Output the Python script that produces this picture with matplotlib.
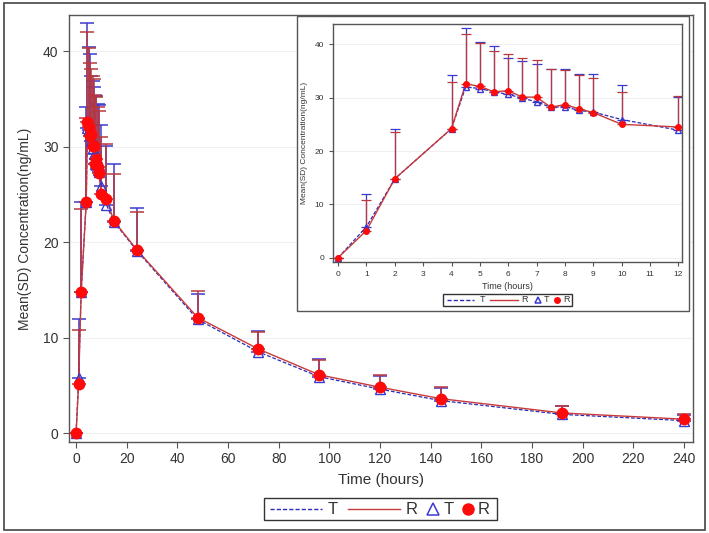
import numpy as np
import matplotlib
matplotlib.use('Agg')
import matplotlib.pyplot as plt
from matplotlib.patches import Rectangle
from matplotlib.lines import Line2D

# Sampling times (hours)
time = [0, 1, 2, 4, 4.5, 5, 5.5, 6, 6.5, 7, 7.5, 8, 8.5, 9, 10, 12, 15, 24, 48, 72, 96, 120, 144, 192, 240]

# Test (T) mean and SD
t_mean = [0, 5.8, 14.8, 24.2, 32.0, 31.7, 31.1, 30.6, 29.9, 29.2, 28.2, 28.3, 27.6, 27.3, 25.9, 23.9, 22.1, 19.1,
          11.9, 8.5, 5.9, 4.6, 3.4, 1.95, 1.3]
t_sd = [0, 6.1, 9.4, 10.0, 11.0, 8.7, 8.6, 6.8, 7.0, 7.1, 7.1, 7.0, 6.9, 7.1, 6.4, 6.2, 6.1, 4.5,
        2.7, 2.2, 1.9, 1.4, 1.3, 0.85, 0.55]

# Reference (R) mean and SD
r_mean = [0, 5.1, 14.8, 24.2, 32.6, 32.1, 31.1, 31.3, 30.1, 30.1, 28.2, 28.7, 27.9, 27.2, 25.0, 24.5, 22.2, 19.2,
          12.1, 8.8, 6.1, 4.8, 3.6, 2.1, 1.45]
r_sd = [0, 5.7, 8.7, 8.8, 9.4, 8.2, 7.7, 6.8, 7.3, 7.0, 7.2, 6.5, 6.3, 6.5, 6.0, 5.8, 4.9, 4.0,
        2.8, 1.8, 1.6, 1.3, 1.2, 0.7, 0.5]

main_xticks = list(range(0, 241, 20))
inset_xticks = list(range(0, 13))
yticks = [0, 10, 20, 30, 40]
legend_labels = ['T', 'R', 'T', 'R']

T_LINE = '#2a2ab8'
T_MARK = '#3a3ad0'
R_LINE = '#c83a3a'
R_MARK = '#ff0a0a'
R_ERR = '#b8383c'
TEXT = '#333333'
SPINE = '#555555'

plt.rcParams['font.family'] = ['Liberation Sans', 'DejaVu Sans']

W, H = 709, 533
fig = plt.figure(figsize=(W / 100, H / 100), dpi=100)


def fx(px):
    return px / W


def fy(py):
    return 1 - py / H


# outer border
fig.patches.append(Rectangle((0.005, 0.005), 0.99, 0.99, transform=fig.transFigure,
                             fill=False, edgecolor='#444444', lw=1.2))


def draw(ax, tt, tm, ts, rm, rs, ms, cap, lw_err):
    z = np.zeros(len(tt))
    ax.errorbar(tt, tm, yerr=[z, ts], fmt='none', ecolor=T_MARK, elinewidth=lw_err,
                capsize=cap, capthick=lw_err, zorder=2)
    ax.errorbar(tt, rm, yerr=[z, rs], fmt='none', ecolor=R_ERR, elinewidth=lw_err,
                capsize=cap, capthick=lw_err, zorder=2.1)
    ax.plot(tt, tm, color=T_LINE, ls=(0, (3, 1.5)), lw=0.9, zorder=3)
    ax.plot(tt, rm, color=R_LINE, ls='-', lw=1.0, zorder=3.1)
    ax.plot(tt, tm, ls='none', marker='^', mfc='none', mec=T_MARK, ms=ms, mew=1.0, zorder=4)
    ax.plot(tt, rm, ls='none', marker='o', mfc=R_MARK, mec=R_MARK, ms=ms, zorder=5)


def style(ax, fs):
    for s in ax.spines.values():
        s.set_color(SPINE)
        s.set_linewidth(1.0)
    ax.tick_params(colors=SPINE, labelcolor=TEXT, labelsize=fs, direction='out', length=4)
    ax.set_yticks(yticks)
    ax.grid(axis='y', color='#f0f0f0', lw=0.8)
    ax.set_axisbelow(True)


def legend_box(box, yc, dash, solid, tri, dot, texts, fs, ms, z):
    # box = (x0, y0, x1, y1) in pixels
    x0, y0, x1, y1 = box
    fig.patches.append(Rectangle((fx(x0), fy(y1)), fx(x1 - x0), (y1 - y0) / H, transform=fig.transFigure,
                                 facecolor='white', edgecolor='#333333', lw=1.0, zorder=z))
    fig.add_artist(Line2D([fx(dash[0]), fx(dash[1])], [fy(yc)] * 2, transform=fig.transFigure,
                          color=T_LINE, ls=(0, (3, 1.5)), lw=1.0, zorder=z + 1))
    fig.add_artist(Line2D([fx(solid[0]), fx(solid[1])], [fy(yc)] * 2, transform=fig.transFigure,
                          color=R_LINE, ls='-', lw=1.0, zorder=z + 1))
    fig.add_artist(Line2D([fx(tri)], [fy(yc)], transform=fig.transFigure, ls='none', marker='^',
                          mfc='none', mec=T_MARK, ms=ms, mew=1.1, zorder=z + 1))
    fig.add_artist(Line2D([fx(dot)], [fy(yc)], transform=fig.transFigure, ls='none', marker='o',
                          mfc=R_MARK, mec=R_MARK, ms=ms, zorder=z + 1))
    for lab, px in zip(legend_labels, texts):
        fig.text(fx(px), fy(yc), lab, ha='center', va='center', fontsize=fs, color=TEXT, zorder=z + 1)


# main plot
ax = fig.add_axes([fx(69), fy(442), fx(693 - 69), (442 - 15) / H])
draw(ax, time, t_mean, t_sd, r_mean, r_sd, ms=7.5, cap=5, lw_err=1.1)
style(ax, 10)
ax.set_xticks(main_xticks)
ax.set_xlim(-2.8, 243.6)
ax.set_ylim(-0.94, 43.8)
ax.set_xlabel('Time (hours)', fontsize=11, color=TEXT, labelpad=5)
ax.set_ylabel('Mean(SD) Concentration(ng/mL)', fontsize=10, color=TEXT, labelpad=8)

legend_box((264, 498, 497, 520), 509, (270, 322), (348, 400), 433, 468,
           [333, 412, 449, 484], 12, 8, 5)

# inset frame
fig.patches.append(Rectangle((fx(297), fy(311)), fx(689 - 297), (311 - 16) / H, transform=fig.transFigure,
                             facecolor='white', edgecolor='#555555', lw=1.0, zorder=10))

n = time.index(12) + 1
ins = fig.add_axes([fx(333), fy(262), fx(682 - 333), (262 - 24) / H], zorder=11)
draw(ins, time[:n], t_mean[:n], t_sd[:n], r_mean[:n], r_sd[:n], ms=4, cap=3.5, lw_err=0.9)
style(ins, 6)
ins.tick_params(length=3)
ins.set_xticks(inset_xticks)
ins.set_xlim(-0.18, 12.13)
ins.set_ylim(-0.8, 43.8)
ins.set_xlabel('Time (hours)', fontsize=6.5, color=TEXT, labelpad=3)
ins.set_ylabel('Mean(SD) Concentration(ng/mL)', fontsize=6, color=TEXT, labelpad=5)

legend_box((443, 294, 572, 306), 300, (447, 474), (490, 518), 538, 557,
           [482, 525, 547, 566], 6.5, 4, 12)

fig.savefig('out.png', dpi=100)
